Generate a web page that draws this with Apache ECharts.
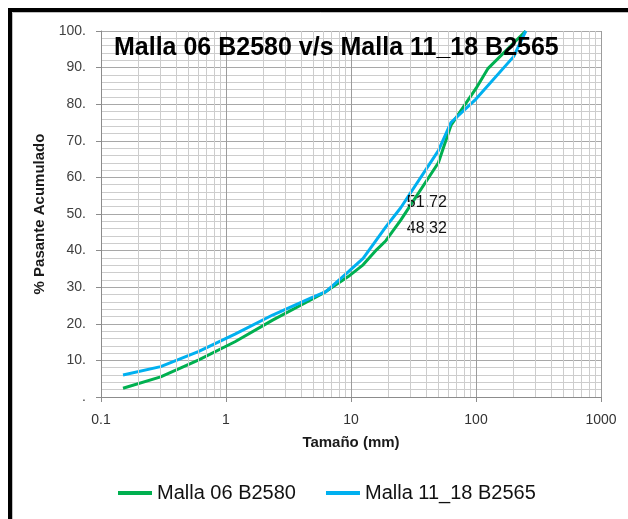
<!DOCTYPE html>
<html>
<head>
<meta charset="utf-8">
<style>
  html, body { margin: 0; padding: 0; background: #fff; }
  #chart { width: 628px; height: 519px; }
</style>
<script src="https://cdn.jsdelivr.net/npm/echarts@6/dist/echarts.min.js"></script>
</head>
<body>
<div id="chart"></div>
<script>
// Curva granulométrica: % pasante acumulado vs. tamaño de partícula (escala log)
const chartTitle = 'Malla 06 B2580 v/s Malla 11_18 B2565';
const seriesNames = ['Malla 06 B2580', 'Malla 11_18 B2565'];

// Malla 06 B2580
const sizesA = [0.15, 0.3, 0.6, 1.18, 2.36, 4.75, 6.3, 9.5, 12.5, 16, 19, 25, 50, 63, 100, 125, 250];
const passingA = [2.4, 5.5, 10.1, 15.1, 21.0, 26.5, 28.8, 32.9, 36.1, 40.2, 42.7, 48.32, 64.0, 74.2, 84.3, 89.8, 100];

// Malla 11_18 B2565
const sizesB = [0.15, 0.3, 0.6, 1.18, 2.36, 4.75, 6.3, 9.5, 12.5, 19, 25, 50, 63, 100, 200, 250];
const passingB = [6.0, 8.3, 12.4, 17.2, 22.4, 27.0, 28.8, 34.2, 37.9, 46.5, 51.72, 67.3, 75.0, 81.4, 93.0, 100];

// tamaño donde se rotula el valor de cada curva
const labelledSize = 25;

const xTickLabels = ['0.1', '1', '10', '100', '1000'];
const FONT = 'Liberation Sans';

// líneas secundarias de la rejilla logarítmica (2..9 de cada década)
const minorX = [];
[0.1, 1, 10, 100].forEach(function (dec) {
  for (let k = 2; k <= 9; k++) minorX.push({ xAxis: +(dec * k).toPrecision(3) });
});

function buildData(xs, ys, labelCfg) {
  return xs.map(function (x, i) {
    const item = { value: [x, ys[i]] };
    if (x === labelledSize) {
      item.label = Object.assign({
        show: true,
        position: 'right',
        distance: 6,
        formatter: String(ys[i]),
        color: '#111',
        fontFamily: FONT,
        fontSize: 16
      }, labelCfg);
    }
    return item;
  });
}

const chart = echarts.init(document.getElementById('chart'), null, { renderer: 'canvas' });

chart.setOption({
  animation: false,
  backgroundColor: '#ffffff',
  title: {
    text: chartTitle,
    left: 109,
    top: 31,
    textStyle: { fontFamily: FONT, fontSize: 25, fontWeight: 'bold', color: '#000' }
  },
  legend: {
    left: 118,
    top: 483,
    padding: 0,
    itemWidth: 34,
    itemHeight: 4,
    itemGap: 30,
    icon: 'rect',
    textStyle: { fontFamily: FONT, fontSize: 20, color: '#111' },
    data: seriesNames
  },
  grid: { left: 101, right: 27, top: 31, bottom: 122 },
  xAxis: {
    type: 'log',
    logBase: 10,
    min: 0.1,
    max: 1000,
    name: 'Tamaño (mm)',
    nameLocation: 'middle',
    nameGap: 38,
    nameTextStyle: { fontFamily: FONT, fontSize: 15, fontWeight: 'bold', color: '#1a1a1a' },
    axisLine: { show: true, lineStyle: { color: '#8c8c8c', width: 1 } },
    axisTick: { show: true, length: 5, lineStyle: { color: '#8c8c8c' } },
    axisLabel: {
      margin: 16,
      fontFamily: FONT,
      fontSize: 14,
      color: '#333',
      formatter: function (v) {
        const idx = Math.round(Math.log10(v)) + 1;
        return xTickLabels[idx] !== undefined ? xTickLabels[idx] : String(v);
      }
    },
    splitLine: { show: true, lineStyle: { color: '#9c9c9c', width: 1 } },
    minorTick: { show: false },
    minorSplitLine: { show: false }
  },
  yAxis: {
    type: 'value',
    min: 0,
    max: 100,
    interval: 10,
    name: '% Pasante Acumulado',
    nameLocation: 'middle',
    nameGap: 50,
    nameTextStyle: { fontFamily: FONT, fontSize: 15, fontWeight: 'bold', color: '#1a1a1a' },
    axisLine: { show: true, lineStyle: { color: '#8c8c8c', width: 1 } },
    axisTick: { show: true, length: 5, lineStyle: { color: '#8c8c8c' } },
    axisLabel: {
      margin: 15,
      fontFamily: FONT,
      fontSize: 14,
      color: '#404040',
      formatter: function (v) { return v === 0 ? '.' : v + '.'; }
    },
    splitLine: { show: true, lineStyle: { color: '#a8a8a8', width: 1 } },
    minorTick: { show: false, splitNumber: 5 },
    minorSplitLine: { show: true, lineStyle: { color: '#cdcdcd', width: 1 } }
  },
  graphic: [
    // marco del gráfico (borde superior e izquierdo)
    { type: 'rect', z: 100, silent: true,
      shape: { x: 10, y: 10, width: 700, height: 600 },
      style: { fill: null, stroke: '#000', lineWidth: 4 } },
    { type: 'rect', z: 100, silent: true,
      shape: { x: 12.5, y: 12.5, width: 700, height: 600 },
      style: { fill: null, stroke: '#c0c0c0', lineWidth: 1 } }
  ],
  series: [
    {
      name: 'grid-minor-x',
      type: 'line',
      data: [],
      z: 1,
      silent: true,
      markLine: {
        silent: true,
        symbol: 'none',
        animation: false,
        label: { show: false },
        lineStyle: { color: '#cdcdcd', width: 1, type: 'solid' },
        data: minorX
      }
    },
    {
      name: seriesNames[0],
      type: 'line',
      z: 3,
      color: '#00b050',
      symbol: 'circle',
      symbolSize: 0,
      showSymbol: true,
      lineStyle: { width: 3, color: '#00b050' },
      data: buildData(sizesA, passingA, { offset: [0, 8] })
    },
    {
      name: seriesNames[1],
      type: 'line',
      z: 4,
      color: '#00b0f0',
      symbol: 'circle',
      symbolSize: 0,
      showSymbol: true,
      lineStyle: { width: 3, color: '#00b0f0' },
      data: buildData(sizesB, passingB, { offset: [0, -5] })
    }
  ]
});
</script>
</body>
</html>
